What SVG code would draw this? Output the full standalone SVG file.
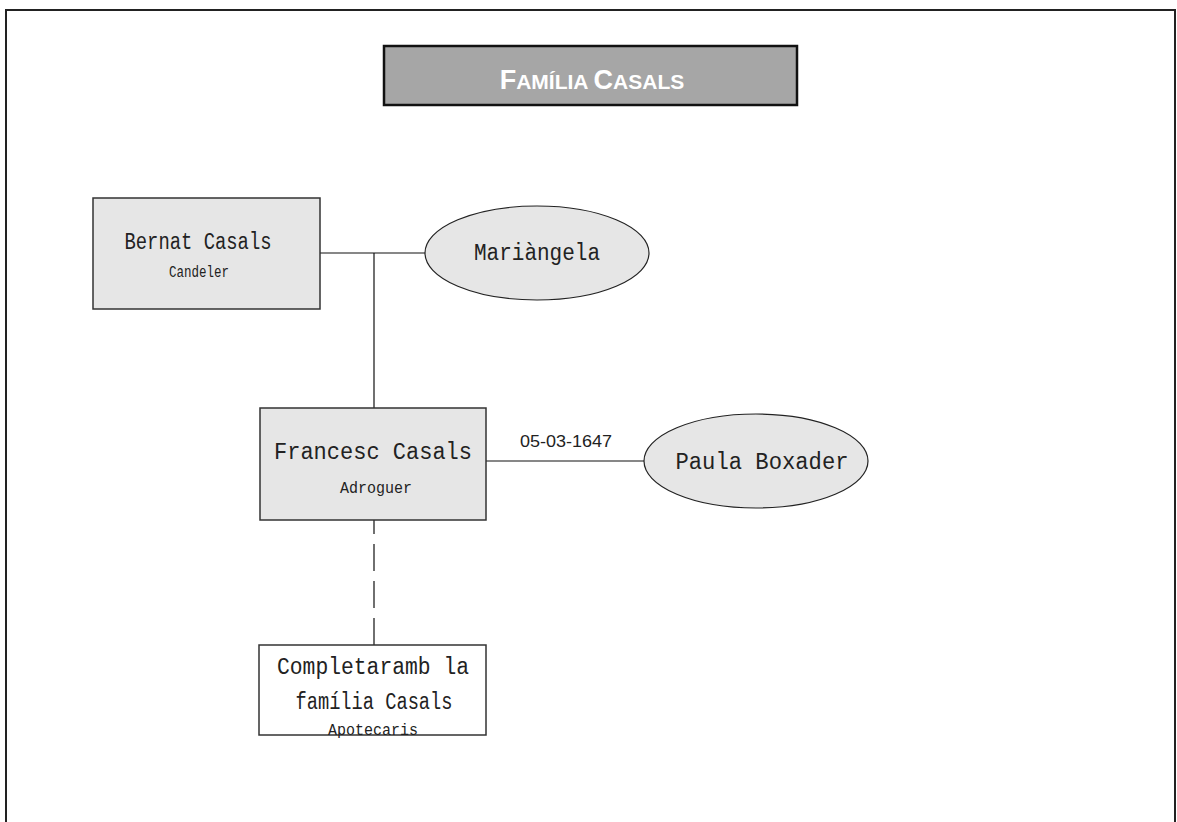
<svg xmlns="http://www.w3.org/2000/svg" width="1177" height="822" viewBox="0 0 1177 822">
<style>
.box{fill:#e6e6e6;stroke:#333;stroke-width:1.5}
.wbox{fill:#fff;stroke:#333;stroke-width:1.5}
.ell{fill:#e6e6e6;stroke:#222;stroke-width:1.2}
.ln{stroke:#111;stroke-width:1.2;fill:none}
.nm{font-family:"Liberation Mono",monospace;font-size:23px;fill:#222;text-anchor:middle}
.sm{font-family:"Liberation Mono",monospace;font-size:16px;fill:#222;text-anchor:middle}
.lbl{font-family:"Liberation Sans",sans-serif;font-size:16px;fill:#222;text-anchor:middle}
</style>
<rect width="1177" height="822" fill="#fff"/>
<path d="M6,822 V10 H1175 V822" fill="none" stroke="#222" stroke-width="2"/>
<g id="title">
<rect x="384" y="46" width="413" height="59" fill="#a6a6a6" stroke="#111" stroke-width="2.5"/>
<text x="592" y="89" text-anchor="middle" font-family="Liberation Sans,sans-serif" font-weight="bold" fill="#fff" font-size="27"><tspan>F</tspan><tspan font-size="21">AMÍLIA </tspan><tspan>C</tspan><tspan font-size="21">ASALS</tspan></text>
</g>
<g id="connectors">
<line class="ln" x1="320" y1="253" x2="425" y2="253"/>
<line class="ln" x1="374" y1="253" x2="374" y2="408"/>
<line class="ln" x1="486" y1="461" x2="644" y2="461"/>
<line class="ln" x1="374" y1="520" x2="374" y2="645" stroke-dasharray="27 10" stroke-dashoffset="13"/>
<text class="lbl" x="566" y="447" textLength="92" lengthAdjust="spacingAndGlyphs">05-03-1647</text>
</g>
<g id="bernat">
<rect class="box" x="93" y="198" width="227" height="111"/>
<text class="nm" x="198" y="249" textLength="147" lengthAdjust="spacingAndGlyphs">Bernat Casals</text>
<text class="sm" x="199" y="277" textLength="60" lengthAdjust="spacingAndGlyphs">Candeler</text>
</g>
<g id="marangela">
<ellipse class="ell" cx="537" cy="253" rx="112" ry="47"/>
<text class="nm" x="537" y="260" textLength="126" lengthAdjust="spacingAndGlyphs">Mariàngela</text>
</g>
<g id="francesc">
<rect class="box" x="260" y="408" width="226" height="112"/>
<text class="nm" x="373" y="459" textLength="198" lengthAdjust="spacingAndGlyphs">Francesc Casals</text>
<text class="sm" x="376" y="493" textLength="72" lengthAdjust="spacingAndGlyphs">Adroguer</text>
</g>
<g id="paula">
<ellipse class="ell" cx="756" cy="461" rx="112" ry="47"/>
<text class="nm" x="762" y="469" textLength="173" lengthAdjust="spacingAndGlyphs">Paula Boxader</text>
</g>
<g id="completar">
<rect class="wbox" x="259" y="645" width="227" height="90"/>
<text class="nm" x="373" y="674" textLength="192" lengthAdjust="spacingAndGlyphs">Completaramb la</text>
<text class="nm" x="374" y="709" textLength="157" lengthAdjust="spacingAndGlyphs">família Casals</text>
<text class="sm" x="373" y="735" textLength="90" lengthAdjust="spacingAndGlyphs">Apotecaris</text>
</g>
</svg>
